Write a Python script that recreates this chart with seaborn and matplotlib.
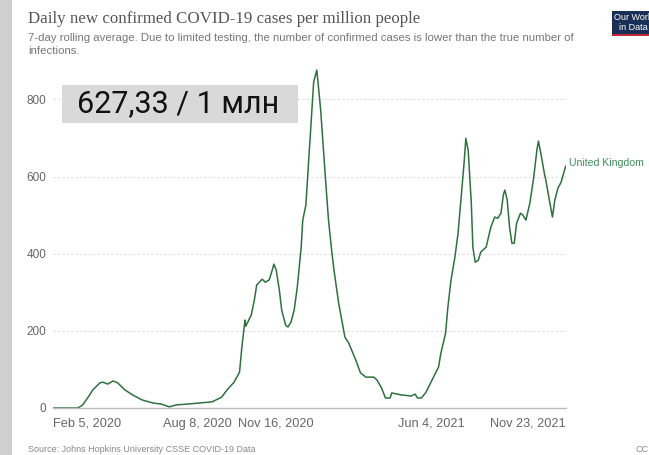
import numpy as np
import pandas as pd
import matplotlib
matplotlib.use("Agg")
import matplotlib.pyplot as plt
from matplotlib.patches import Rectangle
import seaborn as sns

# Daily new confirmed cases per million, United Kingdom (7-day average)
start_date = "2020-02-05"
day_offsets = [0, 32, 38, 47, 51, 60, 64, 70, 77, 83, 92, 102, 114, 128, 139, 149,
               158, 171, 188, 204, 216, 223, 232, 239, 242, 246, 247, 254, 258, 261,
               268, 272, 277, 281, 283, 286, 290, 293, 298, 301, 305, 309, 313, 318,
               320, 324, 334, 338, 343, 349, 353, 357, 360, 366, 374, 379, 381, 388,
               394, 401, 411, 415, 421, 426, 432, 434, 446, 459, 464, 467, 472, 478,
               487, 494, 497, 503, 506, 510, 515, 519, 523, 527, 529, 532, 536, 538,
               541, 545, 548, 555, 561, 566, 570, 574, 577, 579, 582, 585, 588, 591,
               594, 599, 602, 606, 611, 616, 620, 622, 625, 630, 631, 636, 640, 643,
               647, 651, 657]
cases_per_million = [0, 0, 8, 34, 47, 65, 67, 62, 70, 65, 47, 34, 21, 13, 10, 3,
                     8, 10, 13, 16, 28, 47, 67, 93, 158, 228, 212, 241, 280, 319,
                     334, 326, 332, 358, 373, 358, 306, 254, 215, 210, 223, 254, 313, 417,
                     487, 526, 845, 876, 772, 598, 487, 409, 358, 272, 184, 168, 158, 124,
                     91, 80, 80, 73, 52, 26, 26, 39, 34, 31, 36, 26, 26, 41,
                     78, 106, 142, 194, 262, 332, 391, 453, 547, 642, 699, 668, 531, 417,
                     378, 383, 404, 417, 469, 495, 492, 505, 552, 565, 539, 469, 427, 427,
                     479, 505, 500, 487, 531, 598, 668, 692, 661, 604, 596, 539, 495, 539,
                     570, 585, 627.33]

tick_dates = ["2020-02-05", "2020-08-08", "2020-11-16", "2021-06-04", "2021-11-23"]
tick_labels = ["Feb 5, 2020", "Aug 8, 2020", "Nov 16, 2020", "Jun 4, 2021", "Nov 23, 2021"]
y_ticks = [0, 200, 400, 600, 800]

country = "United Kingdom"
latest_label = "627,33 / 1 млн"

df = pd.DataFrame({
    "date": pd.to_datetime(start_date) + pd.to_timedelta(day_offsets, unit="D"),
    "cases": cases_per_million,
})

sns.set_theme(style="white")
plt.rcParams["font.family"] = ["Liberation Sans", "DejaVu Sans"]

fig = plt.figure(figsize=(6.49, 4.55), dpi=100)
fig.patch.set_facecolor("white")
ax = fig.add_axes([0.0817, 0.1033, 0.790, 0.763])

line_color = "#2f7040"
sns.lineplot(data=df, x="date", y="cases", ax=ax, color=line_color, linewidth=1.1)

ax.set_xlim(pd.Timestamp(tick_dates[0]), pd.Timestamp(tick_dates[-1]))
ax.set_ylim(0, 900)
ax.set_xlabel("")
ax.set_ylabel("")

# gridlines
ax.set_yticks(y_ticks)
ax.yaxis.grid(True, linestyle=(0, (2, 2)), color="#dddddd", linewidth=0.8)
ax.xaxis.grid(False)
ax.tick_params(axis="y", length=0, pad=5, labelsize=8.5, labelcolor="#666666")

ax.set_xticks([pd.Timestamp(d) for d in tick_dates])
ax.set_xticklabels(tick_labels)
ax.tick_params(axis="x", length=4, width=0.8, color="#bbbbbb", pad=3,
               labelsize=9.2, labelcolor="#666666", direction="out")
xl = ax.get_xticklabels()
xl[0].set_horizontalalignment("left")
xl[-1].set_horizontalalignment("right")

for s in ["top", "right", "left"]:
    ax.spines[s].set_visible(False)
ax.spines["bottom"].set_color("#bbbbbb")
ax.spines["bottom"].set_linewidth(1.0)

# series label at the end of the line
ax.text(1.006, 636, country, transform=ax.get_yaxis_transform(),
        fontsize=7.6, color="#3f8f5c", va="center", ha="left")

# headline value box
ax.add_patch(Rectangle((0.0175, 0.821), 0.46, 0.11, transform=ax.transAxes,
                       facecolor="#d9d9d9", edgecolor="none", zorder=3))
ax.text(0.047, 0.876, latest_label, transform=ax.transAxes, fontsize=22,
        family=["Roboto", "DejaVu Sans"], color="#111111", ha="left", va="center",
        zorder=4)

# left margin band
fig.patches.append(Rectangle((0, 0), 12 / 649, 1, transform=fig.transFigure,
                             facecolor="#cfcfcf", edgecolor="none"))

# titles
fig.text(28 / 649, 1 - 19 / 455, "Daily new confirmed COVID-19 cases per million people",
         family=["Liberation Serif", "DejaVu Serif"], fontsize=12.2, color="#555555",
         ha="left", va="center")
fig.text(28 / 649, 1 - 38 / 455,
         "7-day rolling average. Due to limited testing, the number of confirmed cases is lower than the true number of",
         fontsize=8.2, color="#777777", ha="left", va="center")
fig.text(28 / 649, 1 - 51 / 455, "infections.", fontsize=8.2, color="#777777",
         ha="left", va="center")

# logo
fig.patches.append(Rectangle((612 / 649, 1 - 34 / 455), 40 / 649, 23 / 455,
                             transform=fig.transFigure, facecolor="#1a2f55", edgecolor="none"))
fig.patches.append(Rectangle((612 / 649, 1 - 36 / 455), 40 / 649, 2.5 / 455,
                             transform=fig.transFigure, facecolor="#c0283a", edgecolor="none"))
fig.text(614 / 649, 1 - 18 / 455, "Our World", fontsize=6.5, color="white",
         ha="left", va="center")
fig.text(619 / 649, 1 - 27 / 455, "in Data", fontsize=6.5, color="white",
         ha="left", va="center")

# footer
fig.text(28 / 649, 1 - 449 / 455, "Source: Johns Hopkins University CSSE COVID-19 Data",
         fontsize=6.5, color="#888888", ha="left", va="center")
fig.text(636 / 649, 1 - 449 / 455, "CC", fontsize=6.5, color="#888888",
         ha="left", va="center")

fig.savefig("out.png", dpi=100)
